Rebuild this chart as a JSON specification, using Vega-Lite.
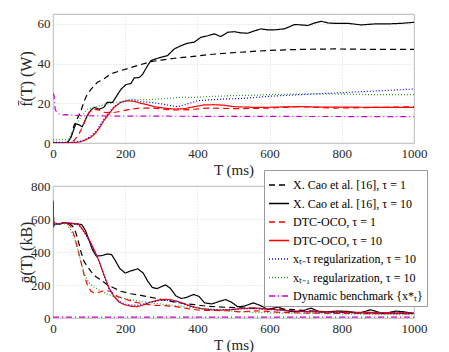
{
"$schema": "https://vega.github.io/schema/vega-lite/v6.json",
"padding": {"left": 17, "top": 13, "right": 5, "bottom": 5},
"background": "white",
"config": {
 "font": "Liberation Serif, Times New Roman, serif",
 "view": {"stroke": "#a6a6a6", "strokeWidth": 0.8},
 "axis": {"labelFont": "Liberation Serif, Times New Roman, serif", "labelFontSize": 13, "labelColor": "#262626", "titleFont": "Liberation Serif, Times New Roman, serif", "titleFontWeight": "normal", "titleColor": "#262626", "domain": false, "ticks": false, "gridColor": "#cfcfcf", "gridDash": [1, 2], "gridWidth": 0.8, "labelFlush": false, "labelOverlap": false},
 "legend": {"labelFont": "Liberation Serif, Times New Roman, serif"}
},
"datasets": {
 "f": [
  {"s":"c1","T":0,"v":0},{"s":"c1","T":20,"v":0},{"s":"c1","T":40,"v":0.3},{"s":"c1","T":50,"v":3},{"s":"c1","T":58,"v":8.7},{"s":"c1","T":68,"v":12.5},{"s":"c1","T":77,"v":16},{"s":"c1","T":86,"v":21},{"s":"c1","T":95,"v":24.5},{"s":"c1","T":105,"v":27},{"s":"c1","T":123,"v":30.6},{"s":"c1","T":141,"v":32.3},{"s":"c1","T":160,"v":34.8},{"s":"c1","T":188,"v":36.5},{"s":"c1","T":216,"v":38},{"s":"c1","T":243,"v":39.5},{"s":"c1","T":271,"v":41},{"s":"c1","T":299,"v":41.8},{"s":"c1","T":336,"v":42.7},{"s":"c1","T":382,"v":43.5},{"s":"c1","T":428,"v":44.5},{"s":"c1","T":484,"v":45.3},{"s":"c1","T":540,"v":46},{"s":"c1","T":595,"v":46.6},{"s":"c1","T":650,"v":47},{"s":"c1","T":700,"v":47.2},{"s":"c1","T":780,"v":47.4},{"s":"c1","T":872,"v":47.2},{"s":"c1","T":1000,"v":47.2},
  {"s":"c10","T":0,"v":0},{"s":"c10","T":30,"v":0},{"s":"c10","T":42,"v":0.5},{"s":"c10","T":50,"v":3},{"s":"c10","T":56,"v":6},{"s":"c10","T":63,"v":9.6},{"s":"c10","T":72,"v":9.2},{"s":"c10","T":81,"v":8.2},{"s":"c10","T":88,"v":11},{"s":"c10","T":95,"v":13.8},{"s":"c10","T":105,"v":16.5},{"s":"c10","T":114,"v":18},{"s":"c10","T":128,"v":17},{"s":"c10","T":141,"v":18},{"s":"c10","T":150,"v":20.5},{"s":"c10","T":165,"v":20.5},{"s":"c10","T":174,"v":23},{"s":"c10","T":188,"v":27},{"s":"c10","T":202,"v":29.4},{"s":"c10","T":216,"v":30},{"s":"c10","T":225,"v":32.8},{"s":"c10","T":239,"v":33},{"s":"c10","T":248,"v":34.5},{"s":"c10","T":262,"v":39},{"s":"c10","T":271,"v":41.5},{"s":"c10","T":285,"v":42.4},{"s":"c10","T":299,"v":43.2},{"s":"c10","T":317,"v":44},{"s":"c10","T":336,"v":47.4},{"s":"c10","T":354,"v":49},{"s":"c10","T":373,"v":50.3},{"s":"c10","T":391,"v":50.8},{"s":"c10","T":410,"v":53.3},{"s":"c10","T":428,"v":54},{"s":"c10","T":447,"v":55},{"s":"c10","T":465,"v":53.6},{"s":"c10","T":484,"v":55.8},{"s":"c10","T":502,"v":56.1},{"s":"c10","T":520,"v":55.5},{"s":"c10","T":539,"v":55.3},{"s":"c10","T":558,"v":56.5},{"s":"c10","T":576,"v":57.5},{"s":"c10","T":595,"v":57},{"s":"c10","T":613,"v":57},{"s":"c10","T":641,"v":57.5},{"s":"c10","T":669,"v":59.7},{"s":"c10","T":688,"v":59.5},{"s":"c10","T":706,"v":59.2},{"s":"c10","T":725,"v":60.5},{"s":"c10","T":743,"v":61.3},{"s":"c10","T":762,"v":60.5},{"s":"c10","T":780,"v":60.3},{"s":"c10","T":817,"v":60.3},{"s":"c10","T":854,"v":59.5},{"s":"c10","T":891,"v":60},{"s":"c10","T":928,"v":60},{"s":"c10","T":965,"v":60.3},{"s":"c10","T":1000,"v":60.8},
  {"s":"d1","T":0,"v":0},{"s":"d1","T":40,"v":0},{"s":"d1","T":50,"v":0.3},{"s":"d1","T":58,"v":1.2},{"s":"d1","T":65,"v":2.8},{"s":"d1","T":72,"v":4.5},{"s":"d1","T":81,"v":7.9},{"s":"d1","T":91,"v":12},{"s":"d1","T":100,"v":15.5},{"s":"d1","T":114,"v":17.1},{"s":"d1","T":128,"v":16.6},{"s":"d1","T":141,"v":15.5},{"s":"d1","T":160,"v":15.1},{"s":"d1","T":188,"v":16},{"s":"d1","T":216,"v":17.1},{"s":"d1","T":243,"v":17.6},{"s":"d1","T":280,"v":17.6},{"s":"d1","T":317,"v":16.8},{"s":"d1","T":354,"v":16.6},{"s":"d1","T":391,"v":17},{"s":"d1","T":428,"v":17.6},{"s":"d1","T":465,"v":17.5},{"s":"d1","T":502,"v":17.3},{"s":"d1","T":550,"v":17.4},{"s":"d1","T":595,"v":17.6},{"s":"d1","T":640,"v":18},{"s":"d1","T":687,"v":18.3},{"s":"d1","T":730,"v":18},{"s":"d1","T":780,"v":17.6},{"s":"d1","T":850,"v":17.8},{"s":"d1","T":920,"v":18},{"s":"d1","T":1000,"v":18.3},
  {"s":"d10","T":0,"v":0},{"s":"d10","T":60,"v":0.2},{"s":"d10","T":75,"v":0.6},{"s":"d10","T":86,"v":1.2},{"s":"d10","T":95,"v":2},{"s":"d10","T":105,"v":2.9},{"s":"d10","T":114,"v":4.3},{"s":"d10","T":123,"v":6.2},{"s":"d10","T":132,"v":8.6},{"s":"d10","T":141,"v":11.3},{"s":"d10","T":155,"v":14.6},{"s":"d10","T":169,"v":18},{"s":"d10","T":188,"v":20.5},{"s":"d10","T":206,"v":21.3},{"s":"d10","T":225,"v":21},{"s":"d10","T":243,"v":20},{"s":"d10","T":262,"v":19.3},{"s":"d10","T":280,"v":18.3},{"s":"d10","T":308,"v":17.6},{"s":"d10","T":336,"v":17.1},{"s":"d10","T":364,"v":17.3},{"s":"d10","T":391,"v":18.3},{"s":"d10","T":419,"v":19.2},{"s":"d10","T":447,"v":19.3},{"s":"d10","T":475,"v":19},{"s":"d10","T":502,"v":18.3},{"s":"d10","T":550,"v":18},{"s":"d10","T":595,"v":18},{"s":"d10","T":640,"v":18.2},{"s":"d10","T":687,"v":18.3},{"s":"d10","T":730,"v":18.1},{"s":"d10","T":780,"v":18.1},{"s":"d10","T":872,"v":18},{"s":"d10","T":1000,"v":18},
  {"s":"xt","T":0,"v":0.3},{"s":"xt","T":60,"v":0.4},{"s":"xt","T":75,"v":0.8},{"s":"xt","T":86,"v":1.5},{"s":"xt","T":95,"v":2.4},{"s":"xt","T":105,"v":3.5},{"s":"xt","T":114,"v":5},{"s":"xt","T":123,"v":7},{"s":"xt","T":132,"v":9.5},{"s":"xt","T":141,"v":12},{"s":"xt","T":155,"v":15.5},{"s":"xt","T":169,"v":18.2},{"s":"xt","T":188,"v":20.5},{"s":"xt","T":206,"v":21.7},{"s":"xt","T":225,"v":21.8},{"s":"xt","T":243,"v":20.8},{"s":"xt","T":271,"v":20.5},{"s":"xt","T":299,"v":19.7},{"s":"xt","T":327,"v":18.8},{"s":"xt","T":345,"v":18.3},{"s":"xt","T":373,"v":19.7},{"s":"xt","T":401,"v":21.3},{"s":"xt","T":428,"v":21.7},{"s":"xt","T":475,"v":22.2},{"s":"xt","T":520,"v":22.4},{"s":"xt","T":595,"v":23.5},{"s":"xt","T":687,"v":24.4},{"s":"xt","T":780,"v":25.2},{"s":"xt","T":872,"v":26},{"s":"xt","T":950,"v":26.7},{"s":"xt","T":1000,"v":27.2},
  {"s":"x1","T":0,"v":1.6},{"s":"x1","T":40,"v":1.7},{"s":"x1","T":44,"v":2},{"s":"x1","T":50,"v":4},{"s":"x1","T":58,"v":7},{"s":"x1","T":67,"v":10},{"s":"x1","T":77,"v":13},{"s":"x1","T":86,"v":15.2},{"s":"x1","T":95,"v":17},{"s":"x1","T":114,"v":18},{"s":"x1","T":132,"v":18.8},{"s":"x1","T":150,"v":19.7},{"s":"x1","T":178,"v":20.5},{"s":"x1","T":206,"v":21.3},{"s":"x1","T":243,"v":21.8},{"s":"x1","T":280,"v":22},{"s":"x1","T":317,"v":22.5},{"s":"x1","T":354,"v":23},{"s":"x1","T":391,"v":23},{"s":"x1","T":428,"v":23.4},{"s":"x1","T":465,"v":23.6},{"s":"x1","T":502,"v":23.9},{"s":"x1","T":550,"v":24},{"s":"x1","T":595,"v":24.4},{"s":"x1","T":687,"v":24.7},{"s":"x1","T":780,"v":24.7},{"s":"x1","T":872,"v":24.4},{"s":"x1","T":1000,"v":24.4},
  {"s":"db","T":0,"v":25},{"s":"db","T":3,"v":24},{"s":"db","T":6,"v":17},{"s":"db","T":10,"v":15.5},{"s":"db","T":17,"v":14.6},{"s":"db","T":26,"v":14.1},{"s":"db","T":35,"v":14.3},{"s":"db","T":44,"v":14.1},{"s":"db","T":77,"v":13.8},{"s":"db","T":150,"v":13.6},{"s":"db","T":300,"v":13.5},{"s":"db","T":520,"v":13.4},{"s":"db","T":1000,"v":13.3}
 ],
 "g": [
  {"s":"c1","T":0,"v":700},{"s":"c1","T":2,"v":560},{"s":"c1","T":6,"v":575},{"s":"c1","T":15,"v":568},{"s":"c1","T":30,"v":577},{"s":"c1","T":45,"v":572},{"s":"c1","T":55,"v":555},{"s":"c1","T":62,"v":525},{"s":"c1","T":68,"v":485},{"s":"c1","T":77,"v":404},{"s":"c1","T":86,"v":343},{"s":"c1","T":95,"v":313},{"s":"c1","T":105,"v":283},{"s":"c1","T":118,"v":252},{"s":"c1","T":132,"v":232},{"s":"c1","T":150,"v":202},{"s":"c1","T":169,"v":182},{"s":"c1","T":188,"v":162},{"s":"c1","T":216,"v":147},{"s":"c1","T":243,"v":137},{"s":"c1","T":280,"v":121},{"s":"c1","T":317,"v":105},{"s":"c1","T":354,"v":91},{"s":"c1","T":391,"v":81},{"s":"c1","T":428,"v":71},{"s":"c1","T":475,"v":65},{"s":"c1","T":521,"v":61},{"s":"c1","T":576,"v":57},{"s":"c1","T":650,"v":53},{"s":"c1","T":700,"v":45},{"s":"c1","T":780,"v":36},{"s":"c1","T":872,"v":31},{"s":"c1","T":1000,"v":28},
  {"s":"c10","T":0,"v":700},{"s":"c10","T":2,"v":560},{"s":"c10","T":6,"v":570},{"s":"c10","T":15,"v":568},{"s":"c10","T":30,"v":578},{"s":"c10","T":50,"v":572},{"s":"c10","T":70,"v":570},{"s":"c10","T":80,"v":565},{"s":"c10","T":90,"v":530},{"s":"c10","T":100,"v":470},{"s":"c10","T":110,"v":410},{"s":"c10","T":120,"v":375},{"s":"c10","T":135,"v":378},{"s":"c10","T":150,"v":388},{"s":"c10","T":162,"v":385},{"s":"c10","T":172,"v":350},{"s":"c10","T":185,"v":300},{"s":"c10","T":200,"v":272},{"s":"c10","T":215,"v":285},{"s":"c10","T":235,"v":298},{"s":"c10","T":250,"v":272},{"s":"c10","T":262,"v":225},{"s":"c10","T":275,"v":185},{"s":"c10","T":288,"v":178},{"s":"c10","T":300,"v":190},{"s":"c10","T":312,"v":200},{"s":"c10","T":325,"v":180},{"s":"c10","T":340,"v":135},{"s":"c10","T":355,"v":118},{"s":"c10","T":370,"v":125},{"s":"c10","T":390,"v":143},{"s":"c10","T":405,"v":130},{"s":"c10","T":420,"v":92},{"s":"c10","T":440,"v":85},{"s":"c10","T":460,"v":100},{"s":"c10","T":478,"v":112},{"s":"c10","T":495,"v":95},{"s":"c10","T":512,"v":68},{"s":"c10","T":530,"v":72},{"s":"c10","T":555,"v":92},{"s":"c10","T":575,"v":75},{"s":"c10","T":595,"v":52},{"s":"c10","T":612,"v":60},{"s":"c10","T":625,"v":67},{"s":"c10","T":645,"v":45},{"s":"c10","T":665,"v":38},{"s":"c10","T":690,"v":42},{"s":"c10","T":715,"v":60},{"s":"c10","T":740,"v":36},{"s":"c10","T":760,"v":38},{"s":"c10","T":790,"v":42},{"s":"c10","T":815,"v":40},{"s":"c10","T":850,"v":30},{"s":"c10","T":880,"v":50},{"s":"c10","T":915,"v":26},{"s":"c10","T":950,"v":42},{"s":"c10","T":970,"v":38},{"s":"c10","T":1000,"v":27},
  {"s":"d1","T":0,"v":710},{"s":"d1","T":2,"v":560},{"s":"d1","T":6,"v":575},{"s":"d1","T":15,"v":570},{"s":"d1","T":30,"v":578},{"s":"d1","T":42,"v":570},{"s":"d1","T":49,"v":556},{"s":"d1","T":58,"v":505},{"s":"d1","T":68,"v":424},{"s":"d1","T":77,"v":343},{"s":"d1","T":86,"v":263},{"s":"d1","T":95,"v":202},{"s":"d1","T":105,"v":162},{"s":"d1","T":114,"v":152},{"s":"d1","T":128,"v":156},{"s":"d1","T":141,"v":166},{"s":"d1","T":160,"v":162},{"s":"d1","T":178,"v":131},{"s":"d1","T":197,"v":117},{"s":"d1","T":225,"v":97},{"s":"d1","T":253,"v":85},{"s":"d1","T":280,"v":77},{"s":"d1","T":308,"v":75},{"s":"d1","T":336,"v":71},{"s":"d1","T":373,"v":57},{"s":"d1","T":410,"v":46},{"s":"d1","T":447,"v":46},{"s":"d1","T":484,"v":44},{"s":"d1","T":521,"v":36},{"s":"d1","T":558,"v":44},{"s":"d1","T":595,"v":40},{"s":"d1","T":632,"v":34},{"s":"d1","T":700,"v":30},{"s":"d1","T":780,"v":28},{"s":"d1","T":872,"v":27},{"s":"d1","T":1000,"v":25},
  {"s":"d10","T":0,"v":710},{"s":"d10","T":2,"v":560},{"s":"d10","T":6,"v":575},{"s":"d10","T":15,"v":570},{"s":"d10","T":30,"v":578},{"s":"d10","T":50,"v":575},{"s":"d10","T":65,"v":570},{"s":"d10","T":72,"v":566},{"s":"d10","T":86,"v":525},{"s":"d10","T":100,"v":475},{"s":"d10","T":114,"v":414},{"s":"d10","T":128,"v":343},{"s":"d10","T":141,"v":263},{"s":"d10","T":155,"v":182},{"s":"d10","T":169,"v":131},{"s":"d10","T":183,"v":97},{"s":"d10","T":197,"v":81},{"s":"d10","T":216,"v":71},{"s":"d10","T":234,"v":69},{"s":"d10","T":253,"v":81},{"s":"d10","T":271,"v":97},{"s":"d10","T":290,"v":107},{"s":"d10","T":308,"v":113},{"s":"d10","T":327,"v":111},{"s":"d10","T":345,"v":101},{"s":"d10","T":364,"v":85},{"s":"d10","T":382,"v":71},{"s":"d10","T":410,"v":57},{"s":"d10","T":438,"v":50},{"s":"d10","T":465,"v":48},{"s":"d10","T":493,"v":50},{"s":"d10","T":521,"v":57},{"s":"d10","T":558,"v":61},{"s":"d10","T":595,"v":55},{"s":"d10","T":632,"v":48},{"s":"d10","T":687,"v":40},{"s":"d10","T":780,"v":36},{"s":"d10","T":872,"v":34},{"s":"d10","T":1000,"v":30},
  {"s":"xt","T":0,"v":700},{"s":"xt","T":2,"v":560},{"s":"xt","T":6,"v":575},{"s":"xt","T":15,"v":570},{"s":"xt","T":30,"v":575},{"s":"xt","T":50,"v":573},{"s":"xt","T":65,"v":568},{"s":"xt","T":72,"v":562},{"s":"xt","T":86,"v":520},{"s":"xt","T":100,"v":470},{"s":"xt","T":114,"v":410},{"s":"xt","T":128,"v":340},{"s":"xt","T":141,"v":258},{"s":"xt","T":155,"v":178},{"s":"xt","T":169,"v":130},{"s":"xt","T":183,"v":100},{"s":"xt","T":197,"v":86},{"s":"xt","T":216,"v":78},{"s":"xt","T":234,"v":78},{"s":"xt","T":253,"v":86},{"s":"xt","T":271,"v":97},{"s":"xt","T":290,"v":104},{"s":"xt","T":308,"v":108},{"s":"xt","T":327,"v":105},{"s":"xt","T":345,"v":96},{"s":"xt","T":364,"v":82},{"s":"xt","T":382,"v":70},{"s":"xt","T":410,"v":57},{"s":"xt","T":438,"v":52},{"s":"xt","T":465,"v":50},{"s":"xt","T":493,"v":52},{"s":"xt","T":521,"v":55},{"s":"xt","T":558,"v":57},{"s":"xt","T":595,"v":52},{"s":"xt","T":632,"v":46},{"s":"xt","T":687,"v":38},{"s":"xt","T":780,"v":33},{"s":"xt","T":872,"v":30},{"s":"xt","T":1000,"v":27},
  {"s":"x1","T":0,"v":700},{"s":"x1","T":2,"v":555},{"s":"x1","T":6,"v":572},{"s":"x1","T":15,"v":568},{"s":"x1","T":30,"v":572},{"s":"x1","T":40,"v":565},{"s":"x1","T":50,"v":530},{"s":"x1","T":58,"v":490},{"s":"x1","T":68,"v":420},{"s":"x1","T":77,"v":345},{"s":"x1","T":86,"v":275},{"s":"x1","T":95,"v":230},{"s":"x1","T":105,"v":200},{"s":"x1","T":118,"v":182},{"s":"x1","T":132,"v":166},{"s":"x1","T":150,"v":145},{"s":"x1","T":169,"v":131},{"s":"x1","T":188,"v":121},{"s":"x1","T":216,"v":111},{"s":"x1","T":243,"v":101},{"s":"x1","T":280,"v":89},{"s":"x1","T":317,"v":81},{"s":"x1","T":354,"v":71},{"s":"x1","T":391,"v":61},{"s":"x1","T":428,"v":55},{"s":"x1","T":465,"v":48},{"s":"x1","T":502,"v":40},{"s":"x1","T":558,"v":34},{"s":"x1","T":613,"v":30},{"s":"x1","T":700,"v":27},{"s":"x1","T":800,"v":24},{"s":"x1","T":900,"v":22},{"s":"x1","T":1000,"v":20},
  {"s":"db","T":0,"v":5},{"s":"db","T":50,"v":5},{"s":"db","T":1000,"v":5}
 ]
},
"spacing": 43,
"bounds": "flush",
"resolve": {"scale": {"y": "independent", "color": "shared", "strokeDash": "shared"}, "legend": {"color": "independent", "strokeDash": "independent"}},
"vconcat": [
 {
  "width": 361, "height": 129,
  "data": {"name": "f"},
  "mark": {"type": "line", "strokeWidth": 1.2, "clip": true},
  "encoding": {
   "x": {"field": "T", "type": "quantitative", "scale": {"domain": [0, 1000], "nice": false}, "axis": {"values": [0, 200, 400, 600, 800, 1000], "format": "d", "title": "T (ms)", "titleFontSize": 15, "titleY": 26, "titleBaseline": "middle", "labelPadding": 4}},
   "y": {"field": "v", "type": "quantitative", "scale": {"domain": [0, 65], "nice": false}, "axis": {"values": [0, 20, 40, 60], "title": "f\u0304(T) (W)", "titleFontSize": 16, "titleX": -27, "titleBaseline": "middle", "titleAlign": "center", "labelPadding": 3}},
   "color": {"field": "s", "type": "nominal", "scale": {"domain": ["c1", "c10", "d1", "d10", "xt", "x1", "db"], "range": ["#000000", "#000000", "#ff0000", "#ff0000", "#0000ff", "#2e9a2e", "#cc00cc"]}, "legend": null},
   "strokeDash": {"field": "s", "type": "nominal", "scale": {"domain": ["c1", "c10", "d1", "d10", "xt", "x1", "db"], "range": [[6, 4], [1, 0], [6, 4], [1, 0], [1, 2], [1, 2], [6, 3, 1, 3]]}, "legend": null}
  }
 },
 {
  "width": 361, "height": 132,
  "data": {"name": "g"},
  "mark": {"type": "line", "strokeWidth": 1.2, "clip": true},
  "encoding": {
   "x": {"field": "T", "type": "quantitative", "scale": {"domain": [0, 1000], "nice": false}, "axis": {"values": [0, 200, 400, 600, 800, 1000], "format": "d", "title": "T (ms)", "titleFontSize": 15, "titleY": 26, "titleBaseline": "middle", "labelPadding": 4}},
   "y": {"field": "v", "type": "quantitative", "scale": {"domain": [0, 800], "nice": false}, "axis": {"values": [0, 200, 400, 600, 800], "title": "g\u0304(T) (kB)", "titleFontSize": 16, "titleX": -27, "titleBaseline": "middle", "titleAlign": "center", "labelPadding": 3}},
   "color": {"field": "s", "type": "nominal", "scale": {"domain": ["c1", "c10", "d1", "d10", "xt", "x1", "db"], "range": ["#000000", "#000000", "#ff0000", "#ff0000", "#0000ff", "#2e9a2e", "#cc00cc"]},
     "legend": {"orient": "none", "legendX": 211, "legendY": -16, "title": null, "symbolType": "stroke", "symbolSize": 400, "symbolStrokeWidth": 1.3, "labelFont": "Liberation Serif, Times New Roman, serif", "labelFontSize": 12, "labelColor": "#000000", "strokeColor": "#999999", "fillColor": "white", "padding": 4, "rowPadding": 1.5, "labelLimit": 300, "labelOffset": 3,
       "labelExpr": "{'c1': 'X. Cao et al. [16], τ = 1', 'c10': 'X. Cao et al. [16], τ = 10', 'd1': 'DTC-OCO, τ = 1', 'd10': 'DTC-OCO, τ = 10', 'xt': 'xₜ₋τ regularization, τ = 10', 'x1': 'xₜ₋₁ regularization, τ = 10', 'db': 'Dynamic benchmark {x*ₜ}'}[datum.label]"}},
   "strokeDash": {"field": "s", "type": "nominal", "scale": {"domain": ["c1", "c10", "d1", "d10", "xt", "x1", "db"], "range": [[6, 4], [1, 0], [6, 4], [1, 0], [1, 2], [1, 2], [6, 3, 1, 3]]},
     "legend": {"orient": "none", "legendX": 211, "legendY": -16, "title": null, "symbolType": "stroke", "symbolSize": 400, "symbolStrokeWidth": 1.3, "labelFont": "Liberation Serif, Times New Roman, serif", "labelFontSize": 12, "labelColor": "#000000", "strokeColor": "#999999", "fillColor": "white", "padding": 4, "rowPadding": 1.5, "labelLimit": 300, "labelOffset": 3,
       "labelExpr": "{'c1': 'X. Cao et al. [16], τ = 1', 'c10': 'X. Cao et al. [16], τ = 10', 'd1': 'DTC-OCO, τ = 1', 'd10': 'DTC-OCO, τ = 10', 'xt': 'xₜ₋τ regularization, τ = 10', 'x1': 'xₜ₋₁ regularization, τ = 10', 'db': 'Dynamic benchmark {x*ₜ}'}[datum.label]"}}
  }
 }
]
}
